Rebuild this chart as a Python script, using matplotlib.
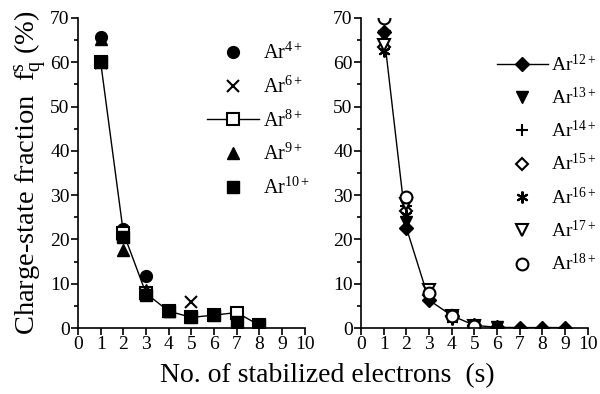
import matplotlib
matplotlib.use("Agg")
import matplotlib.pyplot as plt
from matplotlib.ticker import MultipleLocator

plt.rcParams['font.family'] = ['Liberation Serif', 'DejaVu Serif']
plt.rcParams['mathtext.fontset'] = 'custom'
plt.rcParams['mathtext.rm'] = 'Liberation Serif'
plt.rcParams['mathtext.it'] = 'Liberation Serif'

# Left panel data
s_ar4 = [1, 2, 3, 4]
ar4 = [65.7, 22.3, 11.7, 3.8]
s_ar6 = [1, 2, 3, 5]
ar6 = [59.8, 21.0, 8.0, 5.9]
s_ar8 = [1, 2, 3, 4, 5, 6, 7, 8]
ar8 = [60.0, 21.5, 7.8, 3.8, 2.4, 2.9, 3.5, 0.6]
s_ar9 = [1, 2, 3, 4]
ar9 = [65.2, 17.6, 8.6, 3.8]
s_ar10 = [1, 2, 3, 4, 5, 6, 7, 8]
ar10 = [60.0, 20.5, 7.4, 3.8, 2.4, 2.9, 1.3, 0.6]

# Right panel data
s_ar12 = [1, 2, 3, 4, 5, 6, 7, 8, 9]
ar12 = [66.8, 22.6, 6.3, 2.8, 0.6, 0.15, 0.1, 0.1, 0.1]
s_ar13 = [1, 2, 3, 4, 5, 6]
ar13 = [66.0, 24.0, 7.0, 2.5, 0.5, 0.2]
s_ar14 = [1, 2, 3, 4, 5]
ar14 = [65.0, 27.5, 7.2, 2.5, 0.5]
s_ar15 = [1, 2, 3, 4, 5]
ar15 = [63.5, 26.5, 7.5, 2.6, 0.5]
s_ar16 = [1, 2, 3, 4, 5]
ar16 = [62.5, 25.5, 7.0, 2.0, 0.3]
s_ar17 = [1, 2, 3, 4, 5]
ar17 = [64.0, 28.0, 8.6, 2.6, 0.5]
s_ar18 = [1, 2, 3, 4, 5]
ar18 = [70.0, 29.6, 8.0, 2.6, 0.5]

fig = plt.figure(figsize=(6.0, 3.94), dpi=100)
axL = fig.add_axes([0.13, 0.1675, 0.378, 0.787])
axR = fig.add_axes([0.6017, 0.1675, 0.378, 0.787])

ms = 8.5
k = dict(color='black', linestyle='none', markersize=ms)
axL.plot(s_ar4, ar4, marker='o', label='Ar$^{4+}$', **k)
axL.plot(s_ar6, ar6, marker='x', markeredgewidth=1.5, label='Ar$^{6+}$', **k)
axL.plot(s_ar8, ar8, marker='s', color='black', linestyle='-', linewidth=1,
         markersize=ms, markerfacecolor='white', markeredgewidth=1.5, label='Ar$^{8+}$')
axL.plot(s_ar9, ar9, marker='^', label='Ar$^{9+}$', **k)
axL.plot(s_ar10, ar10, marker='s', label='Ar$^{10+}$', **k)

axR.plot(s_ar12, ar12, marker='D', color='black', linestyle='-', linewidth=1,
         markersize=7, label='Ar$^{12+}$')
axR.plot(s_ar13, ar13, marker='v', label='Ar$^{13+}$', **k)
axR.plot(s_ar14, ar14, marker='+', markeredgewidth=1.5, label='Ar$^{14+}$', **k)
axR.plot(s_ar15, ar15, marker='D', markerfacecolor='white', markeredgewidth=1.5,
         color='black', linestyle='none', markersize=6.5, label='Ar$^{15+}$')
axR.plot(s_ar16, ar16, marker=(6, 2, 0), markeredgewidth=1.5, label='Ar$^{16+}$', **k)
axR.plot(s_ar17, ar17, marker='v', markerfacecolor='white', markeredgewidth=1.5,
         color='black', linestyle='none', markersize=ms, label='Ar$^{17+}$')
axR.plot(s_ar18, ar18, marker='o', markerfacecolor='white', markeredgewidth=1.5,
         color='black', linestyle='none', markersize=ms, label='Ar$^{18+}$')

for ax in (axL, axR):
    ax.set_xlim(0, 10)
    ax.set_ylim(0, 70)
    ax.xaxis.set_major_locator(MultipleLocator(1))
    ax.yaxis.set_major_locator(MultipleLocator(10))
    ax.yaxis.set_minor_locator(MultipleLocator(5))
    ax.spines['top'].set_visible(False)
    ax.spines['right'].set_visible(False)
    ax.spines['left'].set_linewidth(1.2)
    ax.spines['bottom'].set_linewidth(1.2)
    ax.tick_params(axis='both', which='major', direction='out', length=5, width=1.2,
                   labelsize=14, pad=1)
    ax.tick_params(axis='y', which='minor', direction='out', length=3, width=1.2)

axL.legend(loc='upper left', frameon=False, fontsize=14.5, handlelength=2.6,
           handletextpad=0.2, labelspacing=0.62, borderaxespad=0, borderpad=0,
           bbox_to_anchor=(0.568, 0.92))
axR.legend(loc='upper left', frameon=False, fontsize=14, handlelength=2.6,
           handletextpad=0.15, labelspacing=0.62, borderaxespad=0, borderpad=0,
           bbox_to_anchor=(0.6, 0.885))

axL.set_ylabel('Charge-state fraction  f$_\\mathregular{q}^\\mathregular{s}$ (%)', fontsize=20.5, labelpad=1)
fig.text(0.545, 0.03, 'No. of stabilized electrons  (s)', ha='center', fontsize=20)

fig.savefig('out.png', dpi=100)
